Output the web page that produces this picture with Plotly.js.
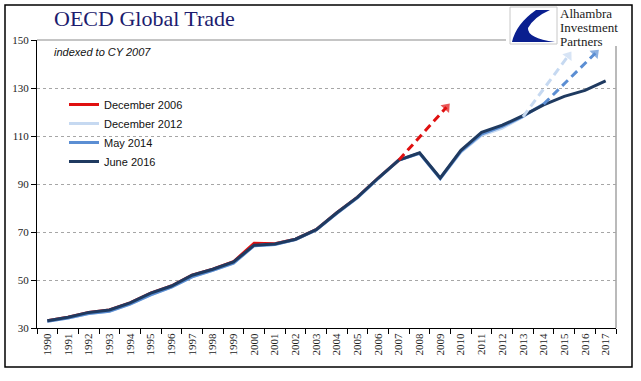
<!DOCTYPE html>
<html>
<head>
<meta charset="utf-8">
<script src="https://cdn.plot.ly/plotly-3.0.1.min.js"></script>
<style>html,body{margin:0;padding:0;background:#fff;}#chart{width:641px;height:381px;}</style>
</head>
<body>
<div id="chart"></div>
<script>
// ---- data ----
var years = [1990,1991,1992,1993,1994,1995,1996,1997,1998,1999,2000,2001,2002,2003,2004,2005,2006,2007,2008,2009,2010,2011,2012,2013,2014,2015,2016,2017];
var yearLabels = years.map(String);

var dec2006Years = [1990,1991,1992,1993,1994,1995,1996,1997,1998,1999,2000,2001,2002,2003,2004,2005,2006,2007];
var dec2006 = [33,34.5,36.5,37.5,40.5,44.5,47.5,52,54.5,57.6,65.3,65.1,67,71,78,84.5,92.5,100];
var dec2006ProjX = [2007, 2009.3];
var dec2006ProjY = [100, 122];

var dec2012Years = [1990,1991,1992,1993,1994,1995,1996,1997,1998,1999,2000,2001,2002,2003,2004,2005,2006,2007,2008,2009,2010,2011,2012,2013];
var dec2012 = [32.8,34.2,36,37,40,43.8,47,51.3,54,57,64.3,64.8,66.8,70.8,77.8,84.3,92.3,100,102.8,92.3,103.3,110.3,113.3,118];
var dec2012ProjX = [2013, 2015.2];
var dec2012ProjY = [118, 143.5];

var may2014Years = [1990,1991,1992,1993,1994,1995,1996,1997,1998,1999,2000,2001,2002,2003,2004,2005,2006,2007,2008,2009,2010,2011,2012,2013,2014];
var may2014 = [32.8,34.2,36,37,40,43.8,47,51.3,54,57,64.3,64.8,66.8,70.8,77.8,84.3,92.3,100,102.8,92.3,103.6,110.8,114,118.2,123.3];
var may2014ProjX = [2014, 2016.5];
var may2014ProjY = [123.3, 144.5];

var jun2016 = [33,34.5,36.5,37.5,40.5,44.5,47.5,52,54.5,57.5,64.5,65,67,71,78,84.5,92.5,100,103,92.5,104,111.5,114.5,118.5,123,126.5,129,133];

var seriesNames = ["December 2006","December 2012","May 2014","June 2016"];
var colors = ["#E01010","#C6D9F1","#5B8ED3","#1F3A60"];

// ---- geometry helpers (pixel -> paper) ----
var W = 641, H = 381, L = 37, R = 25, T = 40, B = 53;
var pw = W - L - R, ph = H - T - B;
function px(x){ return (x - L) / pw; }
function py(y){ return (H - B - y) / ph; }

function solid(x, y, name, color){
  return {x:x, y:y, name:name, type:'scatter', mode:'lines',
    line:{color:color, width:3}, hoverinfo:'skip'};
}
function proj(x, y, color){
  return {x:x, y:y, type:'scatter', mode:'lines+markers', showlegend:false,
    line:{color:color, width:3, dash:'8px,5px'},
    marker:{symbol:'triangle-up', angleref:'previous', size:[0,10], color:color, line:{width:0}},
    hoverinfo:'skip', cliponaxis:false};
}

var data = [
  solid(dec2006Years, dec2006, seriesNames[0], colors[0]),
  solid(dec2012Years, dec2012, seriesNames[1], colors[1]),
  solid(may2014Years, may2014, seriesNames[2], colors[2]),
  solid(years, jun2016, seriesNames[3], colors[3]),
  proj(dec2006ProjX, dec2006ProjY, colors[0]),
  proj(dec2012ProjX, dec2012ProjY, colors[1]),
  proj(may2014ProjX, may2014ProjY, colors[2])
];

var boundaries = years.map(function(y){return y - 0.5;}).concat([years[years.length-1] + 0.5]);

var swoosh = 'M ' + px(550) + ',' + py(10) + ' L ' + px(536) + ',' + py(10) +
  ' Q ' + px(516) + ',' + py(24) + ' ' + px(512) + ',' + py(42) +
  ' L ' + px(555) + ',' + py(42) +
  ' Q ' + px(527) + ',' + py(38) + ' ' + px(528) + ',' + py(28) +
  ' Q ' + px(534) + ',' + py(17) + ' ' + px(550) + ',' + py(10) + ' Z';

var layout = {
  width: W, height: H,
  margin: {l:L, r:R, t:T, b:B, pad:0},
  paper_bgcolor: '#ffffff', plot_bgcolor: '#ffffff',
  font: {family:'Liberation Serif', size:11, color:'#222'},
  title: {text:'OECD Global Trade', x:54/W, xanchor:'left', xref:'container',
    y:1 - 18/H, yanchor:'middle', yref:'container',
    font:{family:'Liberation Serif', size:22, color:'#1C1C6E'}},
  showlegend: true,
  legend: {x:px(64), xanchor:'left', y:py(90), yanchor:'top', bgcolor:'rgba(0,0,0,0)',
    font:{family:'Liberation Sans', size:11, color:'#111'}, tracegroupgap:0, itemwidth:30},
  xaxis: {type:'linear', range:[years[0]-0.5, years[years.length-1]+0.5],
    tickmode:'array', tickvals:years, ticktext:yearLabels, tickangle:-90,
    ticks:'', showgrid:false, zeroline:false,
    showline:true, linecolor:'#000', linewidth:1,
    tickfont:{family:'Liberation Serif', size:11, color:'#222'},
    minor:{tickmode:'array', tickvals:boundaries, ticks:'outside', ticklen:5, tickcolor:'#000', tickwidth:1, showgrid:false},
    fixedrange:true},
  yaxis: {range:[30,150], tickmode:'linear', tick0:30, dtick:20,
    ticks:'outside', ticklen:5, tickcolor:'#000',
    showgrid:true, gridcolor:'#A6A6A6', griddash:'dot', gridwidth:1, zeroline:false,
    showline:true, linecolor:'#000', linewidth:1,
    tickfont:{family:'Liberation Serif', size:11, color:'#222'}, fixedrange:true},
  annotations: [
    {text:'indexed to CY 2007', xref:'paper', yref:'paper', x:px(52), y:py(52), xanchor:'left', yanchor:'middle',
      showarrow:false, font:{family:'Liberation Sans', size:11, color:'#111', style:'italic'}},
    {text:'Alhambra', xref:'paper', yref:'paper', x:px(558), y:py(13), xanchor:'left', yanchor:'middle',
      showarrow:false, font:{family:'Liberation Serif', size:13, color:'#1a1a1a'}},
    {text:'Investment', xref:'paper', yref:'paper', x:px(558), y:py(27.5), xanchor:'left', yanchor:'middle',
      showarrow:false, font:{family:'Liberation Serif', size:13, color:'#1a1a1a'}},
    {text:'Partners', xref:'paper', yref:'paper', x:px(558), y:py(41), xanchor:'left', yanchor:'middle',
      showarrow:false, font:{family:'Liberation Serif', size:13, color:'#1a1a1a'}}
  ],
  shapes: [
    // outer frame
    {type:'rect', xref:'paper', yref:'paper', x0:px(5), x1:px(632), y0:py(367), y1:py(5), line:{color:'#000', width:1.5}, layer:'above'},
    // plot area top & right border
    {type:'line', xref:'paper', yref:'paper', x0:0, x1:1, y0:1, y1:1, line:{color:'#8C8C8C', width:1.2}, layer:'below'},
    {type:'line', xref:'paper', yref:'paper', x0:1, x1:1, y0:0, y1:1, line:{color:'#8C8C8C', width:1.2}, layer:'below'},
    // logo background
    {type:'rect', xref:'paper', yref:'paper', x0:px(506), x1:px(631), y0:py(46), y1:py(6), fillcolor:'#fff', line:{width:0}, layer:'above'},
    {type:'rect', xref:'paper', yref:'paper', x0:px(510), x1:px(557), y0:py(44), y1:py(7), fillcolor:'#fff', line:{color:'#C8C8C8', width:1}, layer:'above'},
    {type:'path', xref:'paper', yref:'paper', path:swoosh, fillcolor:'#0A1F8F', line:{width:0}, layer:'above'}
  ]
};

Plotly.newPlot('chart', data, layout, {staticPlot:true, displayModeBar:false});
</script>
</body>
</html>
